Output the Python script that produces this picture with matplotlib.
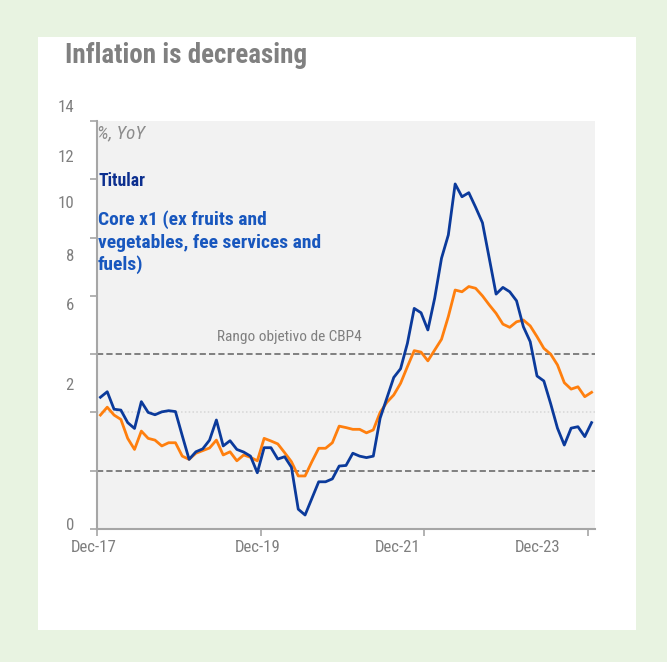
import matplotlib
matplotlib.use("Agg")
import matplotlib.pyplot as plt
from matplotlib import font_manager
from matplotlib.patches import Rectangle
import numpy as np

# prefer a narrow sans face, fall back to a regular one
_available = {f.name for f in font_manager.fontManager.ttflist}
_prefs = ['Liberation Sans Narrow', 'Roboto Condensed', 'Open Sans Condensed',
          'Noto Sans Condensed', 'Arial Narrow', 'Roboto', 'Liberation Sans']
base_font = next((f for f in _prefs if f in _available), 'DejaVu Sans')
plt.rcParams['font.family'] = [base_font, 'DejaVu Sans']

# Monthly year-on-year inflation, Dec-17 .. Dec-23
titular = [4.52, 4.71, 4.11, 4.08, 3.65, 3.45, 4.37, 4.00, 3.92, 4.02, 4.06, 4.03,
           3.20, 2.39, 2.65, 2.75, 3.05, 3.74, 2.85, 3.03, 2.73, 2.64, 2.50, 1.93,
           2.79, 2.79, 2.40, 2.48, 2.12, 0.68, 0.48, 1.05, 1.62, 1.62, 1.72, 2.16,
           2.18, 2.60, 2.50, 2.45, 2.50, 3.80, 4.50, 5.20, 5.50, 6.37, 7.57, 7.42,
           6.83, 7.92, 9.29, 10.09, 11.84, 11.40, 11.54, 11.04, 10.51, 9.29, 8.06, 8.29,
           8.14, 7.83, 6.94, 6.43, 5.25, 5.08, 4.30, 3.46, 2.88, 3.46, 3.51, 3.17,
           3.65]
core = [3.91, 4.18, 3.91, 3.76, 3.11, 2.73, 3.36, 3.11, 3.05, 2.85, 2.96, 2.96,
        2.50, 2.39, 2.60, 2.69, 2.78, 3.05, 2.54, 2.65, 2.34, 2.54, 2.46, 2.34,
        3.11, 3.02, 2.92, 2.62, 2.31, 1.82, 1.82, 2.31, 2.77, 2.77, 2.96, 3.53,
        3.48, 3.42, 3.42, 3.30, 3.40, 4.00, 4.35, 4.60, 5.00, 5.57, 6.12, 6.07,
        5.77, 6.14, 6.51, 7.29, 8.20, 8.14, 8.32, 8.26, 8.00, 7.69, 7.40, 7.03,
        6.92, 7.11, 7.17, 6.97, 6.60, 6.20, 6.00, 5.63, 5.02, 4.80, 4.88, 4.54,
        4.69]

target_band = [2, 6]
target_mid = 4
x_tick_labels = ["Dec-17", "Dec-19", "Dec-21", "Dec-23"]
x_tick_months = [0, 24, 48, 72]
y_tick_labels = ["14", "12", "10", "8", "6", "2", "0"]
core_label = ["Core x1 (ex fruits and", "vegetables, fee services and", "fuels)"]

W, H = 667, 662
fig = plt.figure(figsize=(W / 100, H / 100), dpi=100)
fig.patch.set_facecolor('#e8f3e1')
renderer = fig.canvas.get_renderer()


def fx(px):
    return px / W


def fy(py):
    return 1 - py / H


def fit_width(t, width_px):
    """Scale a text's font size so that it spans width_px pixels."""
    w = t.get_window_extent(renderer=renderer).width
    t.set_fontsize(t.get_fontsize() * width_px / w)
    return t.get_fontsize()


# white card
fig.patches.append(Rectangle((fx(38), fy(630)), fx(636) - fx(38), fy(37) - fy(630),
                             transform=fig.transFigure, facecolor='white',
                             edgecolor='none', zorder=-5))

ax = fig.add_axes([fx(97), fy(529), fx(595) - fx(97), fy(121) - fy(529)])
ax.set_zorder(2)
ax.set_facecolor('#f2f2f2')

n = len(titular)
months = np.arange(n) + 0.5
ax.set_xlim(0, n)
ax.set_ylim(0, 14)

# target range and midpoint
for v in target_band:
    ax.axhline(v, color='#7f7f7f', lw=1.4, ls=(0, (3.2, 1.6)), zorder=1)
ax.axhline(target_mid, color='#d6d6d6', lw=1.1, ls=(0, (1, 1.5)), zorder=1)

ax.plot(months, core, color='#ff7f0e', lw=2.0, zorder=3)
ax.plot(months, titular, color='#0b3a9b', lw=2.0, zorder=4)

for s in ['top', 'right']:
    ax.spines[s].set_visible(False)
for s in ['left', 'bottom']:
    ax.spines[s].set_color('#a6a6a6')
    ax.spines[s].set_linewidth(1.5)

ax.set_yticks(np.arange(0, 15, 2))
ax.set_yticklabels([])
ax.set_xticks(x_tick_months)
ax.set_xticklabels([])
ax.tick_params(axis='both', direction='out', length=5, width=1.2, color='#a6a6a6')

gray = '#7f7f7f'

# tick label size taken from the width of "Dec-17"
probe = fig.text(0, 0, x_tick_labels[0], fontsize=12)
tick_fs = fit_width(probe, 45.7)
probe.remove()

y_label_pos = [108, 158, 203, 257, 305, 386, 525]
for lab, py in zip(y_tick_labels, y_label_pos):
    fig.text(fx(74), fy(py), lab, ha='right', va='center', fontsize=tick_fs, color=gray)
x_label_pos = [94, 258, 398, 538]
for lab, px in zip(x_tick_labels, x_label_pos):
    fig.text(fx(px), fy(548), lab, ha='center', va='center', fontsize=tick_fs, color=gray)

title = fig.text(fx(65), fy(63), "Inflation is decreasing", fontsize=19,
                 fontweight='bold', color='#808080', ha='left', va='baseline')
fit_width(title, 242)

unit = fig.text(fx(97), fy(138), "%, YoY", fontsize=12.5, style='italic',
                color='#8c8c8c', ha='left', va='baseline')
fit_width(unit, 48)

tit = fig.text(fx(98), fy(186.5), "Titular", fontsize=13.5, fontweight='bold',
               color='#0c2f8f', ha='left', va='baseline')
fit_width(tit, 46.7)

probe = fig.text(0, 0, core_label[1], fontsize=13.5, fontweight='bold')
core_fs = fit_width(probe, 222)
probe.remove()
for line, py in zip(core_label, [225, 247.5, 270]):
    fig.text(fx(98), fy(py), line, fontsize=core_fs, fontweight='bold',
             color='#1857be', ha='left', va='baseline')

band = fig.text(fx(217), fy(341.5), "Rango objetivo de CBP4", fontsize=11.6,
                color=gray, ha='left', va='baseline')
fit_width(band, 145)

fig.savefig("out.png", dpi=100, facecolor=fig.get_facecolor())
